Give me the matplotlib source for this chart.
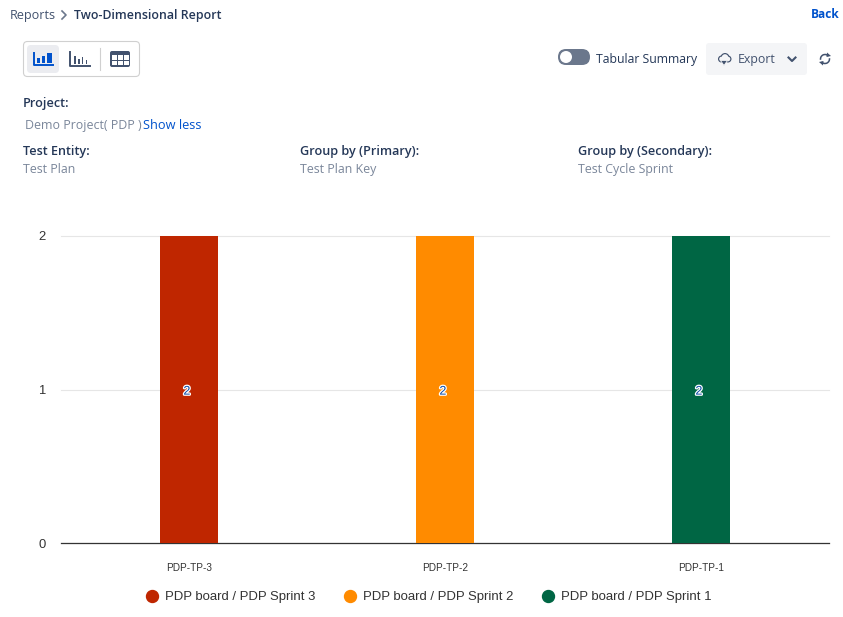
import matplotlib
matplotlib.use('Agg')
import matplotlib.pyplot as plt
import matplotlib.patheffects as pe
from matplotlib.lines import Line2D
from matplotlib.patches import FancyBboxPatch, Rectangle, Circle, Polygon, Arc

# Chart data
testPlans = ['PDP-TP-3', 'PDP-TP-2', 'PDP-TP-1']
planCounts = [2, 2, 2]
sprintNames = ['PDP board / PDP Sprint 3', 'PDP board / PDP Sprint 2', 'PDP board / PDP Sprint 1']
barColors = ['#bf2600', '#ff8b00', '#006644']
yTicks = [0, 1, 2]

W, H = 843, 617
uiFont = ['Open Sans', 'Noto Sans', 'DejaVu Sans']
chartFont = ['Liberation Sans', 'DejaVu Sans']

fig = plt.figure(figsize=(W / 100, H / 100), dpi=100, facecolor='white')

# Overlay in pixel coordinates for the page around the chart
ui = fig.add_axes([0, 0, 1, 1])
ui.set_xlim(0, W)
ui.set_ylim(H, 0)
ui.axis('off')

def label(x, y, s, color='#42526e', size=8.95, weight='normal', ha='left'):
    ui.text(x, y, s, color=color, fontsize=size, fontweight=weight, ha=ha, va='center', family=uiFont)

def box(x, y, w, h, face, edge='none', r=4, lw=1):
    ui.add_patch(FancyBboxPatch((x + r, y + r), w - 2 * r, h - 2 * r, boxstyle='round,pad=%d' % r,
                                facecolor=face, edgecolor=edge, linewidth=lw))

def rect(x, y, w, h, color):
    ui.add_patch(Rectangle((x, y), w, h, facecolor=color, edgecolor='none'))

# Breadcrumb
label(10, 16, 'Reports', '#42526e', size=9.05)
ui.plot([62, 66, 62], [11, 15, 19], color='#6b778c', lw=1.2)
label(74, 16, 'Two-Dimensional Report', '#253858', size=8.95, weight='semibold')
label(840, 15, 'Back', '#0052cc', size=8.6, weight='bold', ha='right')

# Chart type switcher
box(23.5, 41.5, 116, 35, 'white', '#d0d0d0', lw=0.8)
box(27, 45, 32, 28, '#ebecf0')
blue = '#0052cc'
dark = '#42526e'
ui.plot([33.5, 33.5, 53], [53, 65, 65], color=blue, lw=1.4)
rect(37, 58, 3, 4.5, blue)
rect(42, 55.5, 3, 7, blue)
rect(47, 52.5, 5, 10, blue)
ui.plot([70, 70, 90], [52, 66, 66], color=dark, lw=1.4)
for bx, bh in [(74, 8), (78, 5), (81.5, 7), (85.5, 4)]:
    rect(bx, 64 - bh, 1.6, bh, dark)
ui.plot([99.5, 99.5], [48, 70], color='#d0d0d0', lw=0.8)
box(110, 51, 20, 16, dark, r=2)
for cx in [112, 118, 124]:
    rect(cx, 55, 4.7, 4.5, 'white')
    rect(cx, 60.8, 4.7, 4, 'white')

# Toggle, export, refresh
box(558, 49, 32, 16, '#6b778c', r=8)
ui.add_patch(Circle((566, 57), 6, facecolor='white', edgecolor='none'))
label(596, 59, 'Tabular Summary', '#253858', size=8.8)
box(706, 43, 101, 32, '#f4f5f7', r=3)
for cx, cy, r in [(721.5, 59, 3.5), (725, 57.5, 4.5), (728, 59, 3.5)]:
    ui.add_patch(Circle((cx, cy), r, facecolor=dark, edgecolor='none'))
for cx, cy, r in [(721.5, 59, 2.3), (725, 57.5, 3.3), (728, 59, 2.3)]:
    ui.add_patch(Circle((cx, cy), r, facecolor='#f4f5f7', edgecolor='none'))
ui.add_patch(Polygon([[720.5, 60.5], [727.5, 60.5], [724, 65.5]], facecolor=dark, edgecolor='#f4f5f7', linewidth=0.6))
label(738, 60, 'Export', dark)
ui.plot([788.5, 792, 795.5], [57.5, 61, 57.5], color=dark, lw=1.5)
ui.add_patch(Arc((825, 59), 9, 9, theta1=170, theta2=320, color=dark, lw=1.1))
ui.add_patch(Arc((825, 59), 9, 9, theta1=-10, theta2=140, color=dark, lw=1.1))
ui.add_patch(Polygon([[827, 52.5], [831, 56], [826.5, 57]], facecolor=dark, edgecolor='none'))
ui.add_patch(Polygon([[823, 65.5], [819, 62], [823.5, 61]], facecolor=dark, edgecolor='none'))

# Report details
label(23, 104, 'Project:', '#253858', size=9.05, weight='semibold')
label(25, 125.5, 'Demo Project( PDP )', '#7a869a')
label(143, 125.5, 'Show less', '#0052cc', size=9.15)
for x, head, val in [(23, 'Test Entity:', 'Test Plan'),
                     (300, 'Group by (Primary):', 'Test Plan Key'),
                     (578, 'Group by (Secondary):', 'Test Cycle Sprint')]:
    label(x, 151, head, '#253858', size=9.05, weight='semibold')
    label(x, 169.5, val, '#7a869a', size=8.9)

# The chart itself
ax = fig.add_axes([61 / W, 1 - 543 / H, 768 / W, 307 / H], facecolor='none')
xPos = list(range(len(testPlans)))
bars = ax.bar(xPos, planCounts, width=0.23, color=barColors, zorder=3)
ax.set_xlim(-0.5, 2.5)
ax.set_ylim(0, 2)
ax.set_yticks(yTicks)
ax.set_xticks(xPos)
ax.set_xticklabels(testPlans, fontsize=7.2, color='#333333', family=chartFont)
ax.tick_params(axis='x', length=0, pad=14.5)
ax.tick_params(axis='y', length=0, pad=11, labelsize=9.4, labelcolor='#333333')
for t in ax.get_yticklabels():
    t.set_family(chartFont)
ax.grid(axis='y', color='#e6e6e6', lw=0.8, zorder=0, clip_on=False)
ax.set_axisbelow(True)
for side in ['top', 'right', 'left']:
    ax.spines[side].set_visible(False)
ax.spines['bottom'].set_color('#333333')
ax.spines['bottom'].set_linewidth(0.9)

# Count labels in the middle of each bar, blue with a white halo
for b, c in zip(bars, planCounts):
    ax.annotate(str(c), (b.get_x() + b.get_width() / 2, c / 2), xytext=(-1.5, -1.5), textcoords='offset points',
                ha='center', va='center', fontsize=9, color='#0747a6', family=chartFont, zorder=4,
                path_effects=[pe.withStroke(linewidth=1.8, foreground='white')])

# Legend
handles = [Line2D([], [], ls='none', marker='o', ms=8.6, mfc=c, mec=c) for c in barColors]
fig.legend(handles, sprintNames, ncol=3, frameon=False, loc='center', bbox_to_anchor=(425 / W, 1 - 597 / H),
           prop={'family': chartFont, 'size': 9.45}, labelcolor='#333333', handletextpad=0.0, columnspacing=1.64)

fig.savefig('out.png', dpi=100)
